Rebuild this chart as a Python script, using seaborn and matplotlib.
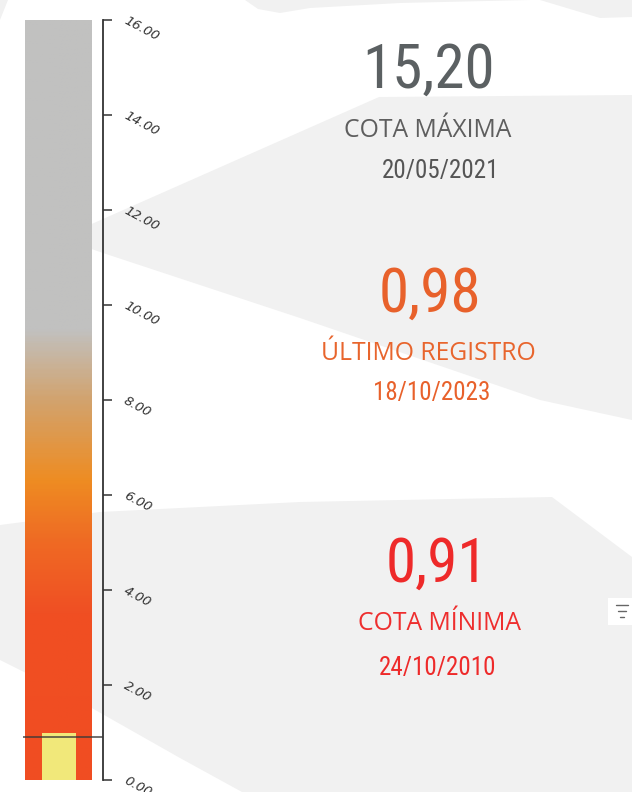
import numpy as np
import pandas as pd
import matplotlib
matplotlib.use("Agg")
import matplotlib.pyplot as plt
from matplotlib import font_manager
from matplotlib.colors import LinearSegmentedColormap
from matplotlib.patches import Polygon, Rectangle
import seaborn as sns

# Data ------------------------------------------------------------------------#
gauge_max = 16.0
tick_values = [0, 2, 4, 6, 8, 10, 12, 14, 16]
ultimo_registro = 0.98
cota_minima = 0.91
cota_maxima = 15.20

kpi_values = ["15,20", "0,98", "0,91"]
kpi_labels = ["COTA MÁXIMA", "ÚLTIMO REGISTRO", "COTA MÍNIMA"]
kpi_dates = ["20/05/2021", "18/10/2023", "24/10/2010"]

# gradient of the gauge (value, colour)
grad_stops = [0.0, 3.5, 5.0, 6.3, 8.0, 9.5, 16.0]
grad_colors = ["#f04d22", "#f04f23", "#ef6a24", "#ee8c22", "#d2a36e", "#c1c1c0", "#c1c1c0"]

# Fonts -----------------------------------------------------------------------#
sns.set_style("white")
names = {f.name for f in font_manager.fontManager.ttflist}
num_font = "Roboto Condensed" if "Roboto Condensed" in names else "Roboto"
lab_font = "Open Sans" if "Open Sans" in names else "DejaVu Sans"
plt.rcParams["font.family"] = ["DejaVu Sans"]

W, H = 632, 792
fig = plt.figure(figsize=(W / 100, H / 100), dpi=100, facecolor="white")

# Background with the light grey swooshes ------------------------------------#
bg = fig.add_axes([0, 0, 1, 1], zorder=0)
bg.set_xlim(0, W)
bg.set_ylim(H, 0)
bg.axis("off")
grey = "#f1f1f1"
shapes = [
    [(60, 238), (379, 97), (632, 95), (632, 420), (540, 400), (300, 318), (103, 253)],
    [(0, 525), (100, 512), (300, 502), (552, 497), (632, 557), (632, 792), (242, 792),
     (180, 758), (120, 724), (60, 690), (0, 660)],
    [(245, 0), (258, 9), (280, 13), (310, 8), (400, 3), (530, 0)],
    [(540, 0), (600, 18), (632, 17), (632, 0)],
    [(0, 0), (8, 0), (0, 20)],
]
for pts in shapes:
    bg.add_patch(Polygon(pts, closed=True, facecolor=grey, edgecolor="none"))

# filter icon
bg.add_patch(Rectangle((608, 598), 24, 27, facecolor="white", edgecolor="none"))
for yy, half in zip([605, 611, 617], [6, 4, 2]):
    bg.plot([622 - half, 622 + half], [yy, yy], color="#666666", lw=1)

# KPI texts
cols = ["#5b6062", "#e8612b", "#ee2a2a"]
lab_cols = ["#5e5e5e", "#e8652d", "#ee2e2e"]
date_cols = ["#555555", "#e8612b", "#ee2a2a"]
num_xy = [(429, 88), (430, 312), (437, 582)]
lab_xy = [(428, 137), (428, 360), (439, 630)]
date_xy = [(441, 178), (432, 400), (438, 675)]
for i in range(3):
    bg.text(*num_xy[i], kpi_values[i], ha="center", va="baseline", fontsize=44,
            family=num_font, color=cols[i])
    bg.text(*lab_xy[i], kpi_labels[i], ha="center", va="baseline", fontsize=17.8,
            family=lab_font, color=lab_cols[i])
    bg.text(*date_xy[i], kpi_dates[i], ha="center", va="baseline", fontsize=18,
            family=num_font, color=date_cols[i])

# Gauge -----------------------------------------------------------------------#
ax = fig.add_axes([23 / W, 12 / H, 80 / W, 760 / H], zorder=2)
ax.patch.set_alpha(0)

cmap = LinearSegmentedColormap.from_list(
    "gauge", list(zip(np.array(grad_stops) / gauge_max, grad_colors)))
grad = np.linspace(0, 1, 400).reshape(-1, 1)
ax.imshow(grad, cmap=cmap, aspect="auto", origin="lower",
          extent=[-0.8, 0.776, 0, gauge_max], zorder=1)

df = pd.DataFrame({"serie": ["último"], "valor": [ultimo_registro]})
sns.barplot(data=df, x="serie", y="valor", color="#f1e87a", saturation=1,
            width=0.8, ax=ax, zorder=2, linewidth=0, edgecolor="none")

ax.axhline(cota_minima, color="#3a3a3a", lw=1.2, alpha=0.85, zorder=3)

ax.set_xlim(-0.847, 1.035)
ax.set_ylim(0, gauge_max)
ax.set_xlabel("")
ax.set_ylabel("")
ax.set_xticks([])
ax.yaxis.tick_right()
ax.set_yticks(tick_values)
ax.set_yticklabels([f"{v:.2f}" for v in tick_values])
ax.tick_params(axis="y", direction="out", length=6.5, width=1.1, color="#333333",
               pad=9, labelsize=9.5, labelcolor="#333333")
for lab in ax.get_yticklabels():
    lab.set_rotation(-28)
    lab.set_rotation_mode("anchor")
    lab.set_ha("left")
    lab.set_va("center")
    lab.set_style("italic")
for s in ["left", "top", "bottom"]:
    ax.spines[s].set_visible(False)
ax.spines["right"].set_color("#333333")
ax.spines["right"].set_linewidth(1.3)

fig.savefig("out.png", dpi=100, facecolor="white")
